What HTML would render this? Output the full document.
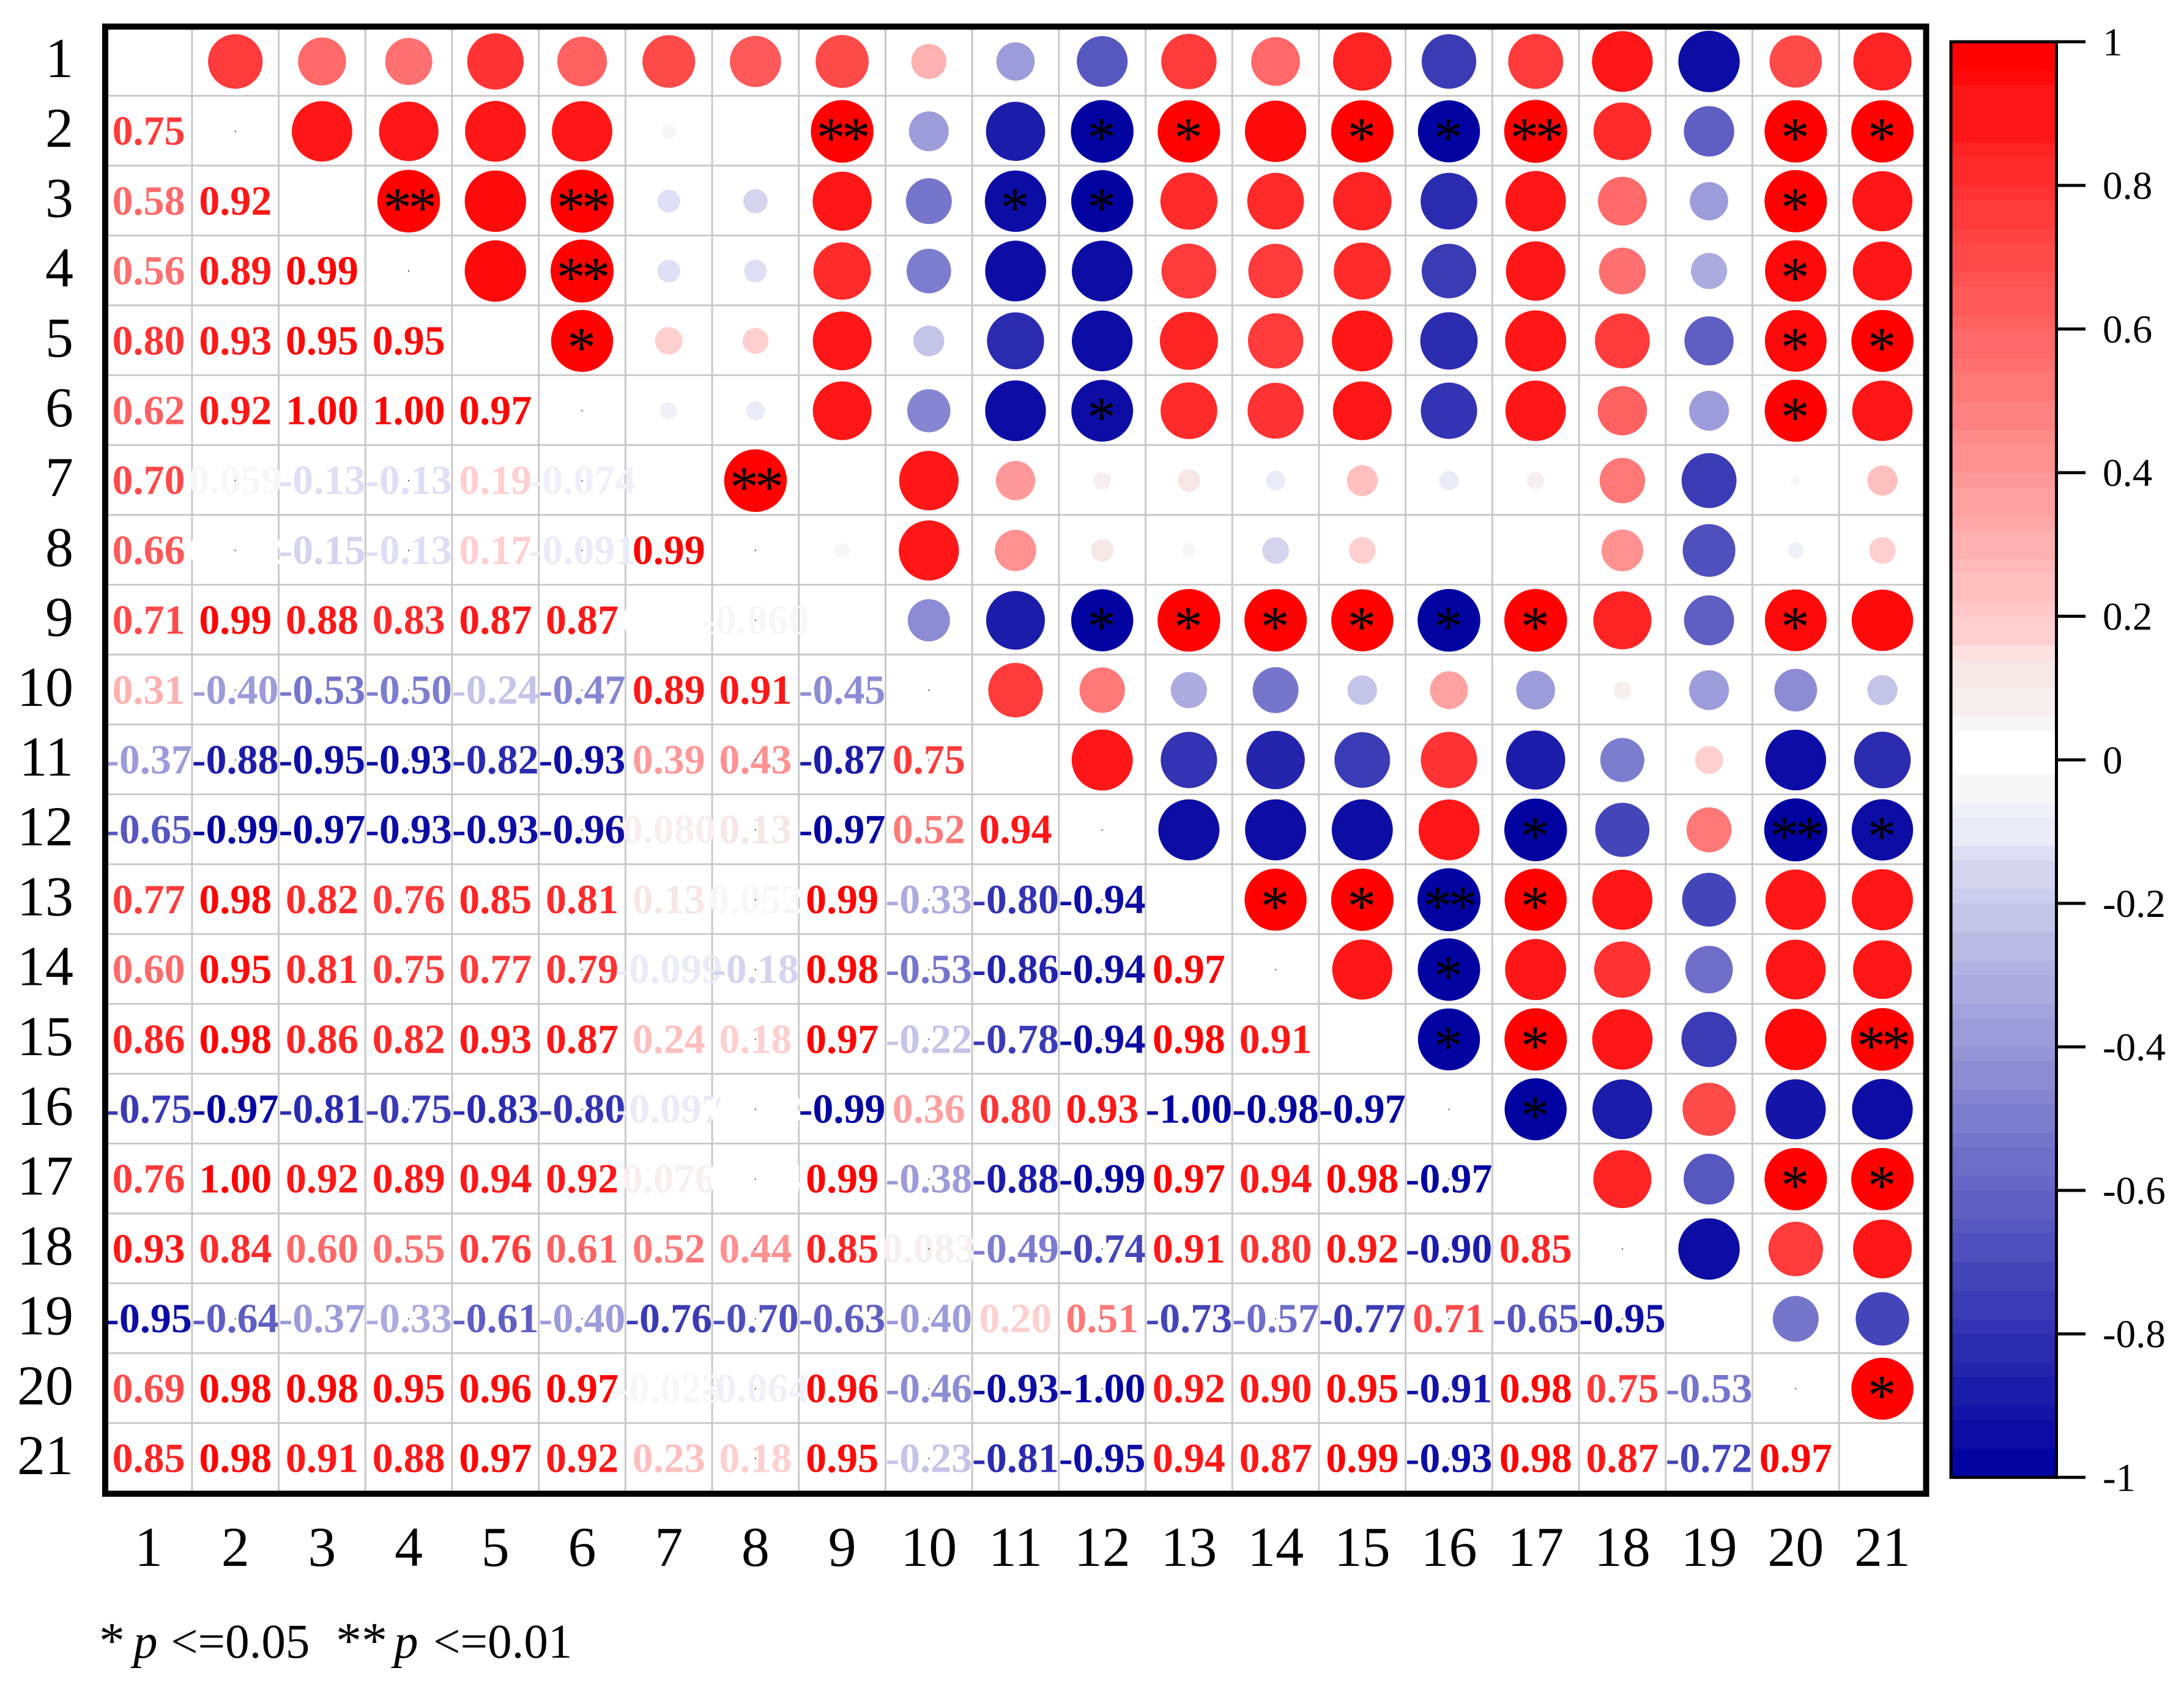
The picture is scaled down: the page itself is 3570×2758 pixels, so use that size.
<!DOCTYPE html>
<html lang="en">
<head>
<meta charset="utf-8">
<title>Correlation matrix</title>
<style>
html,body{margin:0;padding:0;background:#fff;width:3570px;height:2758px;overflow:hidden}
svg{display:block;font-family:"Liberation Serif",serif}
</style>
</head>
<body>
<svg id="chart" xmlns="http://www.w3.org/2000/svg" width="3570" height="2758" viewBox="0 0 3570 2758">
  <rect x="0" y="0" width="3570" height="2758" fill="#ffffff"/>
  <g id="grid"></g>
  <g id="marks"></g>
  <g id="values"></g>
  <g id="axes"></g>
  <rect x="172" y="43.5" width="2976.5" height="2398.5" fill="none" stroke="#000" stroke-width="10"/>
  <g id="colorbar"></g>
  <text y="2710" font-size="79" fill="#000"><tspan x="162" font-size="84">*</tspan><tspan x="218" font-style="italic">p</tspan><tspan x="279">&lt;=0.05</tspan><tspan x="549" font-size="84">**</tspan><tspan x="644" font-style="italic">p</tspan><tspan x="708">&lt;=0.01</tspan></text>
</svg>
<script>
const categories = ['1','2','3','4','5','6','7','8','9','10','11','12','13','14','15','16','17','18','19','20','21'];
const correlations = [
  [],
  [0.75],
  [0.58,0.92],
  [0.56,0.89,0.99],
  [0.80,0.93,0.95,0.95],
  [0.62,0.92,1.00,1.00,0.97],
  [0.70,0.059,-0.13,-0.13,0.19,-0.074],
  [0.66,0.032,-0.15,-0.13,0.17,-0.091,0.99],
  [0.71,0.99,0.88,0.83,0.87,0.87,0.021,-0.060],
  [0.31,-0.40,-0.53,-0.50,-0.24,-0.47,0.89,0.91,-0.45],
  [-0.37,-0.88,-0.95,-0.93,-0.82,-0.93,0.39,0.43,-0.87,0.75],
  [-0.65,-0.99,-0.97,-0.93,-0.93,-0.96,0.080,0.13,-0.97,0.52,0.94],
  [0.77,0.98,0.82,0.76,0.85,0.81,0.13,0.052,0.99,-0.33,-0.80,-0.94],
  [0.60,0.95,0.81,0.75,0.77,0.79,-0.099,-0.18,0.98,-0.53,-0.86,-0.94,0.97],
  [0.86,0.98,0.86,0.82,0.93,0.87,0.24,0.18,0.97,-0.22,-0.78,-0.94,0.98,0.91],
  [-0.75,-0.97,-0.81,-0.75,-0.83,-0.80,-0.097,0.013,-0.99,0.36,0.80,0.93,-1.00,-0.98,-0.97],
  [0.76,1.00,0.92,0.89,0.94,0.92,0.076,0.024,0.99,-0.38,-0.88,-0.99,0.97,0.94,0.98,-0.97],
  [0.93,0.84,0.60,0.55,0.76,0.61,0.52,0.44,0.85,0.083,-0.49,-0.74,0.91,0.80,0.92,-0.90,0.85],
  [-0.95,-0.64,-0.37,-0.33,-0.61,-0.40,-0.76,-0.70,-0.63,-0.40,0.20,0.51,-0.73,-0.57,-0.77,0.71,-0.65,-0.95],
  [0.69,0.98,0.98,0.95,0.96,0.97,-0.023,-0.064,0.96,-0.46,-0.93,-1.00,0.92,0.90,0.95,-0.91,0.98,0.75,-0.53],
  [0.85,0.98,0.91,0.88,0.97,0.92,0.23,0.18,0.95,-0.23,-0.81,-0.95,0.94,0.87,0.99,-0.93,0.98,0.87,-0.72,0.97]
];
const significance = [
  [2,9,'**'],[2,12,'*'],[2,13,'*'],[2,15,'*'],[2,16,'*'],[2,17,'**'],[2,20,'*'],[2,21,'*'],
  [3,4,'**'],[3,6,'**'],[3,11,'*'],[3,12,'*'],[3,20,'*'],
  [4,6,'**'],[4,20,'*'],
  [5,6,'*'],[5,20,'*'],[5,21,'*'],
  [6,12,'*'],[6,20,'*'],
  [7,8,'**'],
  [9,12,'*'],[9,13,'*'],[9,14,'*'],[9,15,'*'],[9,16,'*'],[9,17,'*'],[9,20,'*'],
  [12,17,'*'],[12,20,'**'],[12,21,'*'],
  [13,14,'*'],[13,15,'*'],[13,16,'**'],[13,17,'*'],
  [14,16,'*'],
  [15,16,'*'],[15,17,'*'],[15,21,'**'],
  [16,17,'*'],
  [17,20,'*'],[17,21,'*'],
  [20,21,'*']
];
const colorbarTicks = [1,0.8,0.6,0.4,0.2,0,-0.2,-0.4,-0.6,-0.8,-1];
const colorbarTickLabels = ['1','0.8','0.6','0.4','0.2','0','-0.2','-0.4','-0.6','-0.8','-1'];
const positiveBandEdges = [0.04,0.06,0.10,0.14,0.16,0.20,0.22,0.26,0.28,0.32,0.34,0.38,0.40,0.44,0.46,0.50,0.54,0.56,0.60,0.62,0.66,0.68,0.72,0.74,0.78,0.80,0.84,0.86,0.94,0.96,1];
const negativeBandEdges = [0.02,0.06,0.08,0.12,0.14,0.18,0.20,0.24,0.28,0.30,0.34,0.36,0.40,0.42,0.46,0.48,0.52,0.54,0.58,0.60,0.64,0.66,0.70,0.74,0.78,0.80,0.84,0.86,0.90,0.92,0.96,1];
const paleReds = ['#f7f7f7','#f7efef','#f6e6e6','#fde0e0'];
const paleBlues = ['#f7f7f7','#f0f0f8','#ebebf7','#dedef5'];

const NS = 'http://www.w3.org/2000/svg';
function xPos(i){ return 243 + 141.7 * i; }
function yPos(i){ return 100.5 + 114.2 * i; }
function diameter(v){ return 103 * Math.sqrt(Math.abs(v)); }
function barY(v){ return 1242.3 - (v >= 0 ? 1174 : 1173) * v; }
function make(tag, parent, attrs){
  const el = document.createElementNS(NS, tag);
  for (const k in attrs) el.setAttribute(k, attrs[k]);
  parent.appendChild(el);
  return el;
}
function toHex(n){ return Math.round(Math.max(0, Math.min(255, n))).toString(16).padStart(2, '0'); }
function bandIndex(edges, a){
  for (let i = 0; i < edges.length; i++) if (a <= edges[i]) return i;
  return edges.length - 1;
}
function bandColor(sign, idx){
  const edges = sign > 0 ? positiveBandEdges : negativeBandEdges;
  if (idx === 0) return '#ffffff';
  const pale = sign > 0 ? paleReds : paleBlues;
  if (idx - 1 < pale.length) return pale[idx - 1];
  const mid = (edges[idx] + edges[idx - 1]) / 2;
  const t = Math.min(1, mid + 0.01);
  const c = toHex(255 * (1 - t));
  if (sign > 0) return '#ff' + c + c;
  return '#' + c + c + toHex(255 - 95 * t);
}
function color(v){
  const sign = v >= 0 ? 1 : -1;
  const edges = sign > 0 ? positiveBandEdges : negativeBandEdges;
  return bandColor(sign, bandIndex(edges, Math.abs(v)));
}
function label(v){
  return Math.abs(v) < 0.1 ? v.toFixed(3) : v.toFixed(2);
}

const grid = document.getElementById('grid');
const marks = document.getElementById('marks');
const values = document.getElementById('values');
const axes = document.getElementById('axes');
const bar = document.getElementById('colorbar');

for (let k = 0; k < categories.length - 1; k++) {
  const vx = (xPos(k) + xPos(k + 1)) / 2;
  const vl = make('line', grid, {x1: vx, x2: vx, y1: 48, y2: 2437, stroke: '#c6c6c6', 'stroke-width': 2.8});
  
  
  const hy = (yPos(k) + yPos(k + 1)) / 2 - 1;
  const hl = make('line', grid, {x1: 177, x2: 3144, y1: hy, y2: hy, stroke: '#c6c6c6', 'stroke-width': 2.8});
  
  
}

correlations.forEach(function (row, r) {
  row.forEach(function (v, c) {
    const circle = make('circle', marks, {cx: xPos(r), cy: yPos(c), r: diameter(v) / 2, fill: color(v)});
    
    
    const t = make('text', values, {x: xPos(c), y: yPos(r) + 22, 'text-anchor': 'middle', 'font-size': 68, 'font-weight': 'bold', fill: color(v)});
    t.textContent = label(v);
    
    
  });
});

significance.forEach(function (s) {
  const star = make('text', marks, {x: xPos(s[1] - 1) - 1, y: yPos(s[0] - 1) + 42, 'text-anchor': 'middle', 'font-size': 94, 'letter-spacing': s[2].length > 1 ? -6 : 0, fill: '#000'});
  star.textContent = s[2];
  
  
});

for (let c = 1; c < categories.length; c += 2) {
  for (let r = c; r < categories.length; r++) {
    const dot = make('rect', values, {x: xPos(c) - 1, y: yPos(r) - 1, width: 2, height: 2, fill: '#444'});
    
    
  }
}

categories.forEach(function (name, i) {
  const yl = make('text', axes, {x: 120, y: yPos(i) + 25.5, 'text-anchor': 'end', 'font-size': 92, fill: '#000'});
  yl.textContent = name;
  
  
  const xl = make('text', axes, {x: xPos(i), y: 2560, 'text-anchor': 'middle', 'font-size': 92, fill: '#000'});
  xl.textContent = name;
  
  
});

function drawBands(edges, sign, startValue) {
  let prev = startValue;
  edges.forEach(function (e, idx) {
    const top = sign > 0 ? barY(e) : barY(-prev);
    const bottom = sign > 0 ? barY(prev) : barY(-e);
    const band = make('rect', bar, {x: 3189, y: top, width: 172, height: bottom - top + 0.6, fill: bandColor(sign, idx)});
    
    
    prev = e;
  });
}
drawBands(positiveBandEdges, 1, 0);
drawBands(negativeBandEdges, -1, 0);

const frame = make('rect', bar, {x: 3189, y: barY(1), width: 172.5, height: barY(-1) - barY(1), fill: 'none', stroke: '#000', 'stroke-width': 5});



colorbarTicks.forEach(function (v, i) {
  const tick = make('line', bar, {x1: 3361, x2: 3409, y1: barY(v), y2: barY(v), stroke: '#000', 'stroke-width': 5});
  
  
  const tl = make('text', bar, {x: 3437, y: barY(v) + 22, 'font-size': 65, fill: '#000'});
  tl.textContent = colorbarTickLabels[i];
  
  
});
</script>
</body>
</html>
